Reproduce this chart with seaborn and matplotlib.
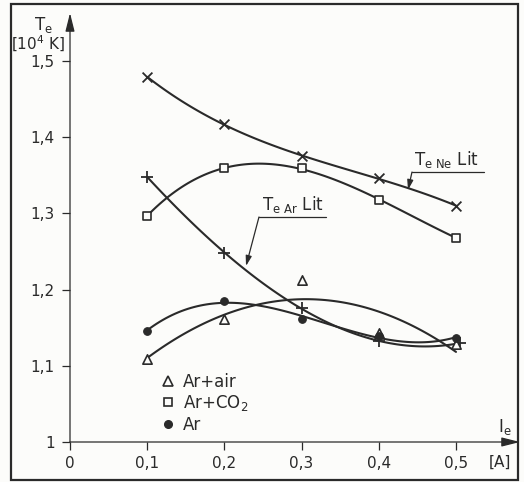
import numpy as np
import pandas as pd
import matplotlib
matplotlib.use("Agg")
import matplotlib.pyplot as plt
import seaborn as sns
from matplotlib.lines import Line2D
from matplotlib.patches import Rectangle

# ---- data ----
current_A = [0.1, 0.2, 0.3, 0.4, 0.5]
te_ne_lit = [1.479, 1.417, 1.375, 1.346, 1.310]
ar_lit_current = [0.1, 0.2, 0.3, 0.4, 0.505]
te_ar_lit = [1.348, 1.248, 1.176, 1.132, 1.130]
te_ar_co2 = [1.297, 1.359, 1.359, 1.318, 1.268]
te_ar_air = [1.109, 1.161, 1.213, 1.143, 1.128]
te_ar = [1.146, 1.185, 1.162, 1.139, 1.137]

x_ticks = [0, 0.1, 0.2, 0.3, 0.4, 0.5]
x_tick_labels = ["0", "0,1", "0,2", "0,3", "0,4", "0,5"]
y_ticks = [1.0, 1.1, 1.2, 1.3, 1.4, 1.5]
y_tick_labels = ["1", "1,1", "1,2", "1,3", "1,4", "1,5"]

ink = "#2a2a2a"
bg = "#fcfcfa"

sns.set_style("white")
plt.rcParams["font.family"] = ["Liberation Sans Narrow", "DejaVu Sans"]
plt.rcParams["mathtext.fontset"] = "custom"
plt.rcParams["mathtext.rm"] = "Liberation Sans Narrow"
plt.rcParams["mathtext.it"] = "Liberation Sans Narrow"

fig = plt.figure(figsize=(5.24, 4.82), dpi=100, facecolor=bg)
ax = fig.add_axes([70 / 524, 40 / 482, 450 / 524, 429 / 482])
ax.set_facecolor(bg)

series = [
    ("Ne Lit", current_A, te_ne_lit, 3),
    ("Ar Lit", ar_lit_current, te_ar_lit, 3),
    ("Ar+CO2", current_A, te_ar_co2, 3),
    ("Ar+air", current_A, te_ar_air, 2),
    ("Ar", current_A, te_ar, 3),
]
for name, xs, ys, order in series:
    df = pd.DataFrame({"I": xs, "T": ys})
    sns.regplot(data=df, x="I", y="T", order=order, ci=None, scatter=False,
                truncate=True, ax=ax, line_kws=dict(color=ink, lw=1.5))

df_ne = pd.DataFrame({"I": current_A, "T": te_ne_lit})
df_arl = pd.DataFrame({"I": ar_lit_current, "T": te_ar_lit})
df_co2 = pd.DataFrame({"I": current_A, "T": te_ar_co2})
df_air = pd.DataFrame({"I": current_A, "T": te_ar_air})
df_ar = pd.DataFrame({"I": current_A, "T": te_ar})

sns.scatterplot(data=df_ne, x="I", y="T", marker="x", s=50, color=ink,
                linewidth=1.3, ax=ax, zorder=5)
sns.scatterplot(data=df_arl, x="I", y="T", marker="+", s=85, color=ink,
                linewidth=1.3, ax=ax, zorder=5)
sns.scatterplot(data=df_co2, x="I", y="T", marker="s", s=36, facecolor=bg,
                edgecolor=ink, linewidth=1.2, ax=ax, zorder=5)
sns.scatterplot(data=df_air, x="I", y="T", marker="^", s=45, facecolor=bg,
                edgecolor=ink, linewidth=1.2, ax=ax, zorder=5)
sns.scatterplot(data=df_ar, x="I", y="T", marker="o", s=30, color=ink,
                edgecolor=ink, linewidth=0.8, ax=ax, zorder=5)

ax.set_xlim(0, 450 / 772)
ax.set_ylim(1.0, 1.0 + 429 / 762)
ax.set_xlabel("")
ax.set_ylabel("")
for sp in ax.spines.values():
    sp.set_visible(False)

ax.set_xticks(x_ticks)
ax.set_xticklabels(x_tick_labels)
ax.set_yticks(y_ticks)
ax.set_yticklabels(y_tick_labels)
ax.tick_params(axis="both", direction="out", length=6, width=0.9, color=ink,
               labelcolor=ink, labelsize=11)
ax.tick_params(axis="x", pad=4, bottom=True)
ax.tick_params(axis="y", pad=5, left=True)

arrow_style = "-|>,head_length=0.8,head_width=0.2"
ax.annotate("", xy=(1, 0), xytext=(0, 0), xycoords="axes fraction",
            arrowprops=dict(arrowstyle=arrow_style, lw=0.9, color=ink,
                            mutation_scale=14, shrinkA=0, shrinkB=0))
ax.annotate("", xy=(0, 1), xytext=(0, 0), xycoords="axes fraction",
            arrowprops=dict(arrowstyle=arrow_style, lw=0.9, color=ink,
                            mutation_scale=14, shrinkA=0, shrinkB=0))

# axis labels
ax.text(-0.035, 1.547, r"$\mathregular{T_e}$", ha="center", va="center",
        fontsize=12, color=ink, clip_on=False)
ax.text(-0.041, 1.522, r"[$\mathregular{10^4}$ K]", ha="center", va="center",
        fontsize=11, color=ink, clip_on=False)
ax.text(0.563, 1.02, r"$\mathregular{I_e}$", ha="center", va="center",
        fontsize=12, color=ink, clip_on=False)
ax.text(0.557, 0.974, "[A]", ha="center", va="center",
        fontsize=11, color=ink, clip_on=False)

# curve annotations
ax.text(0.446, 1.357, r"$\mathregular{T_{e\ Ne}}$ Lit", ha="left", va="bottom",
        fontsize=12, color=ink)
ax.plot([0.443, 0.536], [1.3543, 1.3543], color=ink, lw=0.9)
ax.annotate("", xy=(0.4378, 1.3307), xytext=(0.443, 1.3543),
            arrowprops=dict(arrowstyle="-|>,head_length=0.5,head_width=0.15",
                            lw=0.9, color=ink, mutation_scale=12,
                            shrinkA=0, shrinkB=0))
ax.text(0.249, 1.298, r"$\mathregular{T_{e\ Ar}}$ Lit", ha="left", va="bottom",
        fontsize=12, color=ink)
ax.plot([0.2448, 0.3316], [1.2953, 1.2953], color=ink, lw=0.9)
ax.annotate("", xy=(0.228, 1.231), xytext=(0.2448, 1.2953),
            arrowprops=dict(arrowstyle="-|>,head_length=0.5,head_width=0.15",
                            lw=0.9, color=ink, mutation_scale=12,
                            shrinkA=0, shrinkB=0))

# legend
handles = [
    Line2D([], [], ls="none", marker="^", ms=6.5, mfc=bg, mec=ink, mew=1.2),
    Line2D([], [], ls="none", marker="s", ms=6, mfc=bg, mec=ink, mew=1.2),
    Line2D([], [], ls="none", marker="o", ms=5.5, mfc=ink, mec=ink),
]
labels = ["Ar+air", r"Ar+CO$\mathregular{_2}$", "Ar"]
leg = ax.legend(handles, labels, loc="upper left", bbox_to_anchor=(0.203, 0.162),
                frameon=False, handlelength=0.8, handletextpad=0.5,
                labelspacing=0.15, borderpad=0, borderaxespad=0, fontsize=12)
for t in leg.get_texts():
    t.set_color(ink)

# outer frame
fig.patches.append(Rectangle((11 / 524, 2 / 482), 507 / 524, 476 / 482,
                             transform=fig.transFigure, fill=False,
                             edgecolor=ink, lw=1.6))

fig.savefig("out.png", dpi=100, facecolor=bg)
